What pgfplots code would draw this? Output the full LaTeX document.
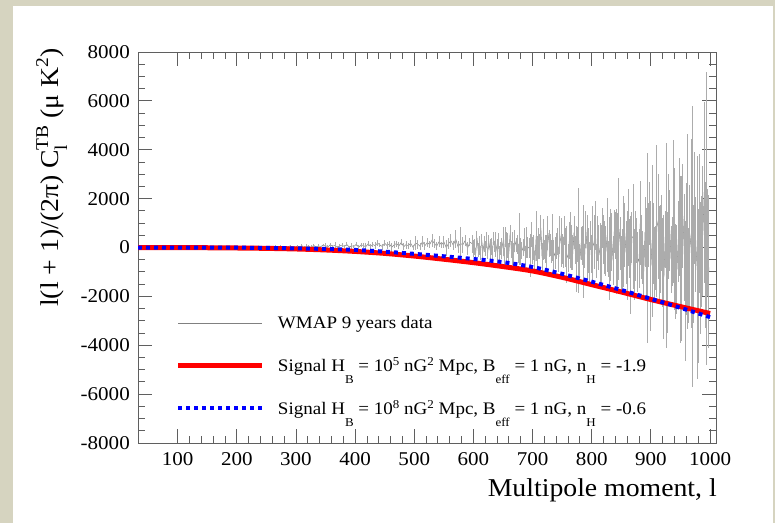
\documentclass[border=0pt]{standalone}
\usepackage{fontspec}
\setmainfont{Liberation Serif}[FakeStretch=1.08]
\usepackage{pgfplots}
\pgfplotsset{compat=1.18}
\usepackage{pgfplotstable}
\definecolor{slidebg}{RGB}{214,212,192}
\definecolor{framegray}{RGB}{95,95,95}
\definecolor{barsgray}{RGB}{172,172,172}
\definecolor{linegray}{RGB}{128,128,128}
\newcommand{\dn}[1]{\raisebox{-12bp}{\fontsize{12bp}{12bp}\selectfont #1}}
\newcommand{\up}[1]{\raisebox{5.5bp}{\fontsize{12bp}{12bp}\selectfont #1}}
\newcommand{\ysub}[1]{\raisebox{-9bp}{\fontsize{18bp}{18bp}\selectfont #1}}
\newcommand{\ysup}[1]{\raisebox{10bp}{\fontsize{18bp}{18bp}\selectfont #1}}

\pgfplotstableread{
l c e
34 2 10
42 -5 8
50 7 13
58 -2 9
66 4 11
74 -8 7
82 1 15
90 6 10
98 -3 9
106 12 18
114 -8 11
122 2 15
130 -3 21
138 8 14
146 -11 17
154 11 16
162 5 32
170 -5 20
178 20 16
186 -2 26
194 14 18
202 8 33
210 45 21
218 17 45
226 -5 30
234 32 26
242 5 36
250 37 34
258 -15 45
266 24 63
274 45 41
282 6 50
290 62 36
298 -8 72
302 49 60
306 27 48
310 76 78
314 -10 54
318 58 66
322 40 42
326 9 90
330 85 60
334 18 51
338 67 72
342 36 45
346 103 60
350 77 105
354 27 68
358 110 83
362 49 60
366 88 120
370 5 75
374 66 60
378 99 98
382 38 68
386 126 83
390 16 53
394 71 113
398 44 75
402 136 81
406 3 114
410 108 71
414 80 95
418 31 133
422 150 100
426 45 105
430 122 96
434 73 152
438 178 115
442 101 76
446 38 124
450 181 128
454 82 132
458 145 104
462 10 180
466 109 140
470 163 122
474 64 144
478 208 120
482 28 140
486 118 168
490 73 128
494 172 152
498 1 116
502 180 290
506 132 180
510 47 144
514 253 234
518 72 162
522 205 198
526 120 126
530 300 270
534 168 180
538 59 154
542 241 216
546 108 136
550 237 240
554 -11 336
558 171 216
562 270 264
566 88 192
570 352 384
574 22 240
578 170 650
582 105 312
586 286 216
590 -28 264
594 220 168
598 154 360
600 -44 332
602 20 325
604 -213 207
606 391 276
608 -106 276
610 63 390
612 -210 281
614 304 244
616 -167 249
618 151 325
620 -29 304
622 300 330
624 -258 221
626 238 293
628 -90 442
630 41 358
632 -197 276
634 369 260
636 32 221
638 129 520
640 -167 511
642 282 325
644 -298 354
646 -46 260
648 -58 432
650 239 601
652 -407 275
654 426 416
656 29 589
658 83 508
660 -189 393
662 582 323
664 -80 334
666 -42 693
668 -246 450
670 270 462
672 95 295
674 114 393
676 -233 393
678 352 1050
680 -146 550
682 -135 347
684 7 354
686 333 462
688 -364 432
690 208 647
692 10 439
694 -10 416
696 -323 877
698 520 508
700 -111 548
702 -14 516
704 -565 439
706 462 1032
708 -232 713
710 159 645
712 40 494
714 807 516
716 -414 604
718 332 839
720 -81 384
722 -57 581
724 -293 823
726 591 710
728 161 548
730 116 452
732 -172 467
734 419 968
736 -354 658
738 -230 645
740 46 536
742 246 549
744 -490 510
746 505 774
748 204 1000
750 -65 630
752 -193 643
754 700 600
756 6 785
758 -292 1176
760 -431 571
762 275 756
764 323 1142
766 -8 924
768 -202 700
770 616 672
772 -113 571
774 -462 1344
776 122 700
778 288 2150
780 -510 643
782 162 672
784 85 785
786 -174 1900
788 -351 500
790 729 756
792 -43 1377
794 -122 924
796 -630 850
798 502 588
800 -251 780
802 61 1620
804 218 1102
806 900 1000
808 -562 689
810 358 918
812 10 918
814 -311 1296
816 -354 1285
818 803 810
820 315 1000
822 -14 1080
824 -146 1010
826 506 1512
828 -459 734
830 -450 1700
832 113 1469
834 209 1188
836 -532 1000
838 655 864
840 482 969
842 -162 1728
844 -180 1575
846 760 2100
848 151 1091
850 -689 1140
852 -577 1333
854 257 1853
856 504 1300
858 -216 1283
860 -312 1817
862 824 1568
864 -48 1211
866 -720 2000
868 416 1030
870 446 2138
872 -709 1454
874 68 1425
876 284 910
878 -594 1212
880 -445 1211
882 1013 1710
884 14 1300
886 -405 1070
888 -974 1091
890 635 1425
892 -189 1800
894 -20 3900
896 510 1326
898 1391 1283
900 -766 2652
902 270 3100
904 170 1658
906 -729 1560
908 -426 1326
910 1094 3120
912 851 2155
914 -243 1950
916 -63 1800
918 608 1560
920 -596 1823
922 -1215 2535
924 340 1160
926 90 4200
928 -1021 2486
930 851 2145
932 680 1658
934 -486 1365
936 -170 1409
938 1458 2925
940 340 2907
942 -972 1950
944 -907 1817
946 243 1658
948 1247 2423
950 -486 3420
952 -454 3392
954 1296 2138
956 0 2180
958 -1782 2850
960 -42 2700
962 648 3990
964 -1134 1938
966 0 2565
968 567 3876
970 60 5750
972 -680 2423
974 1620 2280
976 113 1938
978 -810 4560
980 -1588 3149
982 972 2850
984 -840 2700
986 -162 2280
988 680 2665
990 2268 3705
992 -300 3000
994 1200 6000
996 200 2180
998 -972 3135
}\wmap

\pgfplotstableread{
l v
33 0
100 -5
150 -10
200 -20
250 -35
300 -60
350 -100
400 -160
450 -240
500 -350
550 -480
600 -620
650 -780
700 -960
750 -1220
800 -1520
850 -1820
900 -2130
950 -2420
1000 -2700
}\sigA

\pgfplotstableread{
l v
33 0
100 -3
200 -8
250 -18
300 -35
350 -60
400 -100
450 -170
500 -260
550 -360
600 -470
650 -600
700 -800
750 -1080
800 -1400
850 -1740
900 -2100
950 -2470
1000 -2850
}\sigB

\begin{document}
\begin{tikzpicture}
\fill[slidebg] (0,0) rectangle (775bp,523bp);
\fill[white] (13bp,0) rectangle (773bp,517bp);
\begin{axis}[
  at={(138bp,80bp)}, anchor=south west,
  width=578bp, height=391bp, scale only axis,
  xmin=33, xmax=1010, ymin=-8000, ymax=8000,
  xtick={100,200,...,1000}, minor x tick num=4,
  ytick={-8000,-6000,...,8000}, minor y tick num=3,
  tick align=inside, xtick pos=both, ytick pos=both,
  xticklabel pos=lower, yticklabel pos=left,
  major tick length=14bp, minor tick length=7bp,
  axis line style={framegray, line width=0.9bp},
  tick style={framegray, line width=0.9bp},
  /pgf/number format/assume math mode=true,
  /pgf/number format/1000 sep={},
  scaled ticks=false,
  ticklabel style={font=\fontsize{19.5bp}{19.5bp}\selectfont, inner sep=0pt},
  xticklabel style={anchor=north, yshift=-9bp},
  yticklabel style={anchor=east, xshift=-8bp},
  xlabel={Multipole moment, l},
  ylabel={l(l + 1)/(2π) C\rlap{\ysub{l}}\ysup{TB} (μ K\ysup{2})},
  xlabel style={at={(axis description cs:1.0017,-0.138)}, anchor=base east, inner sep=0pt, font=\fontsize{25.7bp}{26bp}\selectfont},
  ylabel style={at={(axis description cs:-0.138,1.0102)}, anchor=base east, inner sep=0pt, font=\fontsize{25.7bp}{26bp}\selectfont},
  legend cell align=left,
  legend image code/.code={\draw[#1] (0bp,0bp) -- (84bp,0bp);},
  legend style={draw=none, fill=none, inner sep=0pt, outer sep=0pt,
    at={(axis description cs:0.0657,0.3248)}, anchor=north west,
    row sep=28bp,
    nodes={inner sep=0pt, font=\fontsize{17.6bp}{20bp}\selectfont},
    /tikz/every odd column/.append style={column sep=13bp}},
]
\addplot[color=linegray, line width=0.5bp, no markers,
  error bars/.cd, y dir=both, y explicit,
  error bar style={color=barsgray, line width=1.0bp}, error mark=none]
  table[x=l, y=c, y error=e] {\wmap};
\addlegendentry{WMAP 9 years data}
\addplot[color=red, line width=5bp, smooth, no markers] table[x=l, y=v] {\sigA};
\addlegendentry{Signal H\dn{B} = 10\up{5} nG\up{2} Mpc, B\dn{eff} = 1 nG, n\dn{H} = -1.9}
\addplot[color=blue, line width=4bp, dash pattern=on 4bp off 4bp, smooth, no markers] table[x=l, y=v] {\sigB};
\addlegendentry{Signal H\dn{B} = 10\up{8} nG\up{2} Mpc, B\dn{eff} = 1 nG, n\dn{H} = -0.6}
\end{axis}
\pgfresetboundingbox
\path (0,0) rectangle (775bp,523bp);
\end{tikzpicture}
\end{document}
